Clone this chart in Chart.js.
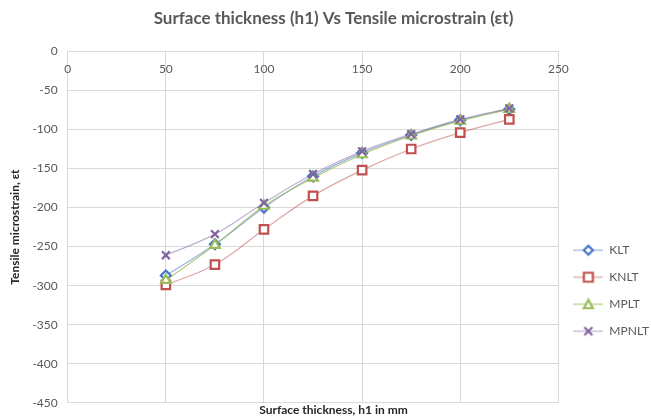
<!DOCTYPE html>
<html>
<head>
<meta charset="utf-8">
<script src="https://cdn.jsdelivr.net/npm/chart.js@4"></script>
<style>
    html, body { margin: 0; padding: 0; background: #fff; }
    #wrap { width: 651px; height: 420px; position: relative; }
</style>
</head>
<body>
<div id="wrap"><canvas id="lineChart"></canvas></div>
<script>
const thickness = [50, 75, 100, 125, 150, 175, 200, 225];
const klt = [-287, -247, -200, -160, -130, -107, -88, -74];
const knlt = [-299, -273, -228, -185, -152, -125, -104, -87];
const mplt = [-293, -248, -198, -162, -132, -108, -89, -74];
const mpnlt = [-261, -234, -194, -157, -128, -106, -87, -73];
const xTicks = [0, 50, 100, 150, 200, 250];
const yTicks = [0, -50, -100, -150, -200, -250, -300, -350, -400, -450];

function toPoints(values) {
    return thickness.map((x, i) => ({ x: x, y: values[i] }));
}

// small line+marker picture for the legend
function legendIcon(style, color, lineColor) {
    const c = document.createElement('canvas');
    c.width = 30;
    c.height = 14;
    const g = c.getContext('2d');
    g.strokeStyle = lineColor;
    g.lineWidth = 1.2;
    g.beginPath();
    g.moveTo(0, 7);
    g.lineTo(30, 7);
    g.stroke();
    g.strokeStyle = color;
    g.fillStyle = '#ffffff';
    g.lineWidth = 2.2;
    g.beginPath();
    if (style === 'rectRot') {
        g.moveTo(15, 2.5); g.lineTo(19.5, 7); g.lineTo(15, 11.5); g.lineTo(10.5, 7); g.closePath();
        g.fill(); g.stroke();
    } else if (style === 'rect') {
        g.rect(10.5, 2.5, 9, 9);
        g.fill(); g.stroke();
    } else if (style === 'triangle') {
        g.moveTo(15, 2.5); g.lineTo(19.5, 11); g.lineTo(10.5, 11); g.closePath();
        g.fill(); g.stroke();
    } else {
        g.moveTo(11, 3); g.lineTo(19, 11); g.moveTo(19, 3); g.lineTo(11, 11);
        g.stroke();
    }
    return c;
}

function series(label, values, color, lineColor, style, radius, order) {
    return {
        label: label,
        data: toPoints(values),
        borderColor: lineColor,
        backgroundColor: '#ffffff',
        pointBorderColor: color,
        pointBackgroundColor: '#ffffff',
        pointStyle: style,
        pointRadius: radius,
        pointBorderWidth: 2.2,
        borderWidth: 1.2,
        tension: 0.4,
        order: order,
        legendIcon: legendIcon(style, color, lineColor)
    };
}

const fontFamily = 'Lato, "Open Sans", sans-serif';
const tickFont = { family: fontFamily, size: 12 };

const ctx = document.getElementById('lineChart').getContext('2d');
new Chart(ctx, {
    type: 'line',
    data: {
        datasets: [
            series('KLT', klt, '#4472C4', 'rgba(68, 114, 196, 0.55)', 'rectRot', 5, 3),
            series('KNLT', knlt, '#C0504D', 'rgba(192, 80, 77, 0.5)', 'rect', 6, 2),
            series('MPLT', mplt, '#9BBB59', 'rgba(155, 187, 89, 0.75)', 'triangle', 5.5, 1),
            series('MPNLT', mpnlt, '#8064A2', 'rgba(128, 100, 162, 0.5)', 'crossRot', 5.5, 0)
        ]
    },
    options: {
        responsive: true,
        maintainAspectRatio: false,
        animation: false,
        layout: { padding: { left: 8, right: -8, top: 6, bottom: 1 } },
        scales: {
            x: {
                type: 'linear',
                position: { y: 0 },
                min: 0,
                max: 250,
                afterBuildTicks: axis => { axis.ticks = xTicks.map(v => ({ value: v })); },
                ticks: { color: '#595959', font: tickFont, padding: 11 },
                grid: { color: '#d9d9d9', drawTicks: false },
                border: { color: '#d9d9d9' }
            },
            y: {
                min: -450,
                max: 0,
                afterBuildTicks: axis => { axis.ticks = yTicks.map(v => ({ value: v })); },
                ticks: { color: '#595959', font: tickFont, padding: 10 },
                grid: { color: '#d9d9d9', drawTicks: false },
                border: { display: false },
                title: {
                    display: true,
                    text: 'Tensile microstrain, εt',
                    color: '#262626',
                    font: { family: fontFamily, size: 12, weight: 'bold' },
                    padding: { top: 0, bottom: 0 }
                }
            }
        },
        plugins: {
            title: {
                display: true,
                text: 'Surface thickness (h1) Vs Tensile microstrain (εt)',
                color: '#595959',
                font: { family: fontFamily, size: 17, weight: 'bold' },
                padding: { top: 2, bottom: 23 }
            },
            subtitle: {
                display: true,
                position: 'bottom',
                text: 'Surface thickness, h1 in mm',
                color: '#262626',
                font: { family: fontFamily, size: 12, weight: 'bold' },
                padding: { top: 0, bottom: 0 }
            },
            legend: {
                position: 'right',
                title: {
                    display: true,
                    text: ' ',
                    padding: { top: 0, bottom: 142 }
                },
                labels: {
                    usePointStyle: true,
                    pointStyleWidth: 30,
                    color: '#595959',
                    font: tickFont,
                    padding: 15,
                    sort: (a, b) => a.datasetIndex - b.datasetIndex,
                    generateLabels: chart => {
                        const items = Chart.defaults.plugins.legend.labels.generateLabels(chart);
                        items.forEach(item => {
                            item.pointStyle = chart.data.datasets[item.datasetIndex].legendIcon;
                        });
                        return items;
                    }
                }
            }
        }
    }
});
</script>
</body>
</html>
